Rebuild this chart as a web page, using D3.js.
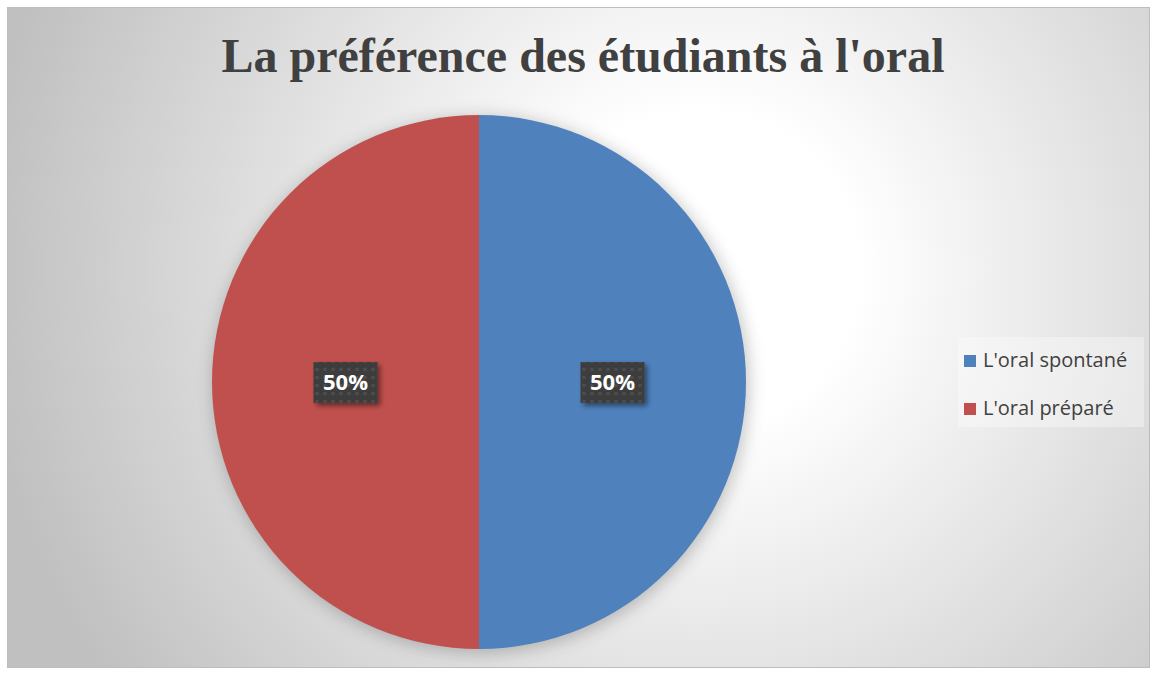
<!DOCTYPE html>
<html>
  <head>
    <meta charset="utf-8">
    <style>
      body { margin: 0; background: #fff; }
    </style>
  </head>
  <body>
    <script src="https://d3js.org/d3.v7.min.js"></script>
    <script>
      const title = "La préférence des étudiants à l'oral";
      const categories = ["L'oral spontané", "L'oral préparé"];
      const values = [50, 50];
      const colors = ['#4F81BD', '#C0504D'];

      const width = 1155, height = 675;
      const data = categories.map((c, i) => ({ name: c, value: values[i] }));

      const svg = d3.select('body').append('svg')
        .attr('width', width)
        .attr('height', height);

      const defs = svg.append('defs');
      const grad = defs.append('radialGradient')
        .attr('id', 'bg')
        .attr('gradientUnits', 'userSpaceOnUse')
        .attr('cx', 700).attr('cy', 270).attr('r', 720);
      grad.append('stop').attr('offset', '0%').attr('stop-color', '#ffffff');
      grad.append('stop').attr('offset', '22%').attr('stop-color', '#ffffff');
      grad.append('stop').attr('offset', '100%').attr('stop-color', '#c0c0c0');

      const shadow = defs.append('filter').attr('id', 'shadow')
        .attr('x', '-20%').attr('y', '-20%').attr('width', '140%').attr('height', '140%');
      shadow.append('feGaussianBlur').attr('in', 'SourceAlpha').attr('stdDeviation', 9);
      shadow.append('feOffset').attr('dx', 2).attr('dy', 3).attr('result', 'b');
      shadow.append('feComponentTransfer').append('feFuncA').attr('type', 'linear').attr('slope', 0.25);

      const lblShadow = defs.append('filter').attr('id', 'lblshadow')
        .attr('x', '-30%').attr('y', '-30%').attr('width', '160%').attr('height', '160%');
      lblShadow.append('feGaussianBlur').attr('in', 'SourceAlpha').attr('stdDeviation', 2.5);
      lblShadow.append('feOffset').attr('dx', 3).attr('dy', 3).attr('result', 'o');
      lblShadow.append('feComponentTransfer').attr('result', 's')
        .append('feFuncA').attr('type', 'linear').attr('slope', 0.45);
      const mg = lblShadow.append('feMerge');
      mg.append('feMergeNode').attr('in', 's');
      mg.append('feMergeNode').attr('in', 'SourceGraphic');

      const pat = defs.append('pattern').attr('id', 'dots')
        .attr('patternUnits', 'userSpaceOnUse').attr('width', 8).attr('height', 8);
      pat.append('rect').attr('width', 8).attr('height', 8).attr('fill', '#3d3d3d');
      pat.append('rect').attr('x', 2).attr('y', 2).attr('width', 3).attr('height', 3).attr('fill', '#4e4e4e');

      svg.append('rect')
        .attr('x', 7.5).attr('y', 7.5)
        .attr('width', 1142).attr('height', 660)
        .attr('fill', 'url(#bg)')
        .attr('stroke', '#bdbdbd');

      svg.append('text')
        .attr('x', 583).attr('y', 72)
        .attr('text-anchor', 'middle')
        .attr('font-family', 'Liberation Serif, Times New Roman, serif')
        .attr('font-weight', 'bold')
        .attr('font-size', 48)
        .attr('fill', '#404040')
        .text(title);

      const cx = 479, cy = 382, radius = 267;
      const g = svg.append('g').attr('transform', `translate(${cx},${cy})`);

      const pie = d3.pie().sort(null).value(d => d.value)(data);
      const arc = d3.arc().innerRadius(0).outerRadius(radius);
      const color = d3.scaleOrdinal().domain(categories).range(colors);

      g.append('circle').attr('r', radius).attr('fill', '#000').attr('filter', 'url(#shadow)');

      g.selectAll('path.slice')
        .data(pie)
        .join('path')
        .attr('class', 'slice')
        .attr('fill', d => color(d.data.name))
        .attr('d', arc);

      const labelArc = d3.arc().innerRadius(radius * 0.5).outerRadius(radius * 0.5);
      const fmt = d3.format('.0%');
      const total = d3.sum(values);
      const lbl = g.selectAll('g.lbl')
        .data(pie)
        .join('g')
        .attr('class', 'lbl')
        .attr('transform', d => {
          const [x, y] = labelArc.centroid(d);
          return `translate(${x},${y})`;
        });
      lbl.append('rect')
        .attr('x', -32).attr('y', -20)
        .attr('width', 64).attr('height', 41)
        .attr('fill', 'url(#dots)')
        .attr('filter', 'url(#lblshadow)');
      lbl.append('text')
        .attr('text-anchor', 'middle')
        .attr('dy', 8)
        .attr('font-family', 'Open Sans, sans-serif')
        .attr('font-weight', 'bold')
        .attr('font-size', 22)
        .attr('fill', '#fff')
        .text(d => fmt(d.data.value / total));

      const legend = svg.append('g').attr('transform', 'translate(958,337)');
      legend.append('rect')
        .attr('width', 186).attr('height', 90)
        .attr('fill', '#fff').attr('fill-opacity', 0.35);
      const items = legend.selectAll('g.item')
        .data(categories)
        .join('g')
        .attr('class', 'item')
        .attr('transform', (d, i) => `translate(6,${18 + i * 48})`);
      items.append('rect')
        .attr('width', 12).attr('height', 12)
        .attr('fill', d => color(d));
      items.append('text')
        .attr('x', 19).attr('y', 12)
        .attr('font-family', 'Open Sans, sans-serif')
        .attr('font-size', 20)
        .attr('fill', '#404040')
        .text(d => d);
    </script>
  </body>
</html>
